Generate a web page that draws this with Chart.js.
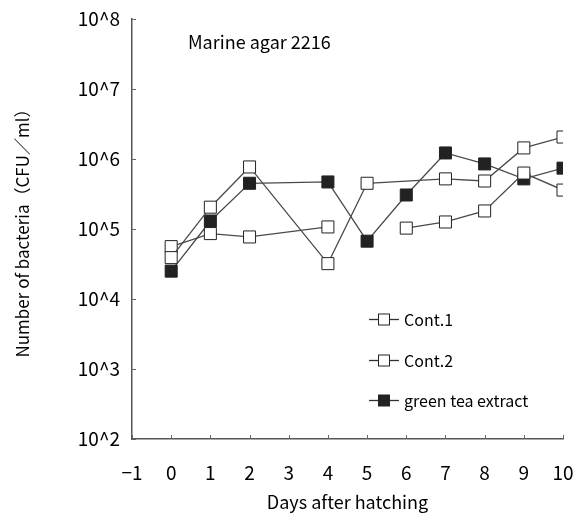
<!DOCTYPE html>
<html>
<head>
<meta charset="utf-8">
<script src="https://cdn.jsdelivr.net/npm/chart.js"></script>
<style>
  html, body { margin: 0; padding: 0; background: #fff; }
  #wrap { width: 574px; height: 517px; }
</style>
</head>
<body>
<div id="wrap"><canvas id="myChart" width="574" height="517"></canvas></div>
<script>
// Setup
const FONT = '"Noto Sans CJK JP", "Noto Sans", sans-serif';

const cont1Days = [0, 1, 2, 4, 5, 7, 8, 9, 10];
const cont1 = [3.9e4, 2.05e5, 7.7e5, 3.2e4, 4.5e5, 5.2e5, 4.85e5, 1.44e6, 2.06e6];

// null at day 5 = break in the line
const cont2Days = [0, 1, 2, 4, 5, 6, 7, 8, 9, 10];
const cont2 = [5.6e4, 8.6e4, 7.7e4, 1.07e5, null, 1.03e5, 1.26e5, 1.81e5, 6.3e5, 3.6e5];

const teaDays = [0, 1, 2, 4, 5, 6, 7, 8, 9, 10];
const tea = [2.5e4, 1.3e5, 4.5e5, 4.7e5, 6.7e4, 3.06e5, 1.22e6, 8.5e5, 5.2e5, 7.4e5];

const xTicks = [-1, 0, 1, 2, 3, 4, 5, 6, 7, 8, 9, 10];
const yExponents = [2, 3, 4, 5, 6, 7, 8];

const toPoints = (days, vals) => days.map((d, i) => ({ x: d, y: vals[i] }));

const lineStyle = (label, pts, fill) => ({
  label: label,
  data: pts,
  borderColor: '#4a4a4a',
  borderWidth: 1.3,
  pointStyle: 'rect',
  pointRadius: 8.5,
  pointHoverRadius: 8.5,
  pointBorderWidth: 1,
  pointBorderColor: '#222',
  pointBackgroundColor: fill,
  spanGaps: false,
  tension: 0
});

const data = {
  datasets: [
    lineStyle('Cont.1', toPoints(cont1Days, cont1), '#fff'),
    lineStyle('Cont.2', toPoints(cont2Days, cont2), '#fff'),
    lineStyle('green tea extract', toPoints(teaDays, tea), '#222')
  ]
};

// inward tick marks, the legend box and the panel label
const extras = {
  id: 'extras',
  afterDraw(chart) {
    const ctx = chart.ctx;
    const xs = chart.scales.x, ys = chart.scales.y;
    const a = chart.chartArea;
    ctx.save();
    ctx.strokeStyle = '#666';
    ctx.lineWidth = 1;
    yExponents.forEach(e => {
      const y = Math.round(ys.getPixelForValue(Math.pow(10, e))) + 0.5;
      ctx.beginPath(); ctx.moveTo(a.left, y); ctx.lineTo(a.left + 4, y); ctx.stroke();
    });
    xTicks.forEach(t => {
      const x = Math.round(xs.getPixelForValue(t)) + 0.5;
      ctx.beginPath(); ctx.moveTo(x, a.bottom); ctx.lineTo(x, a.bottom - 4); ctx.stroke();
    });

    ctx.fillStyle = '#000';
    ctx.font = '18px ' + FONT;
    ctx.textBaseline = 'alphabetic';
    ctx.textAlign = 'left';
    ctx.fillText('Marine agar 2216', 188, 49);

    const rows = [319, 360, 400];
    ctx.font = '16px ' + FONT;
    ctx.textBaseline = 'middle';
    chart.data.datasets.forEach((ds, i) => {
      const y = rows[i] + 0.5;
      ctx.strokeStyle = '#333';
      ctx.lineWidth = 1.3;
      ctx.beginPath(); ctx.moveTo(369, y); ctx.lineTo(399, y); ctx.stroke();
      ctx.fillStyle = ds.pointBackgroundColor;
      ctx.strokeStyle = '#222';
      ctx.lineWidth = 1;
      ctx.fillRect(378.5, y - 5.5, 11, 11);
      ctx.strokeRect(378.5, y - 5.5, 11, 11);
      ctx.fillStyle = '#000';
      ctx.fillText(ds.label, 404, rows[i] + 1);
    });
    ctx.restore();
  }
};

// Config
const config = {
  type: 'line',
  data: data,
  options: {
    responsive: false,
    animation: false,
    layout: { padding: { top: 19, right: 11, left: 0, bottom: 0 } },
    plugins: { legend: { display: false }, tooltip: { enabled: false } },
    scales: {
      x: {
        type: 'linear',
        min: -1,
        max: 10,
        afterBuildTicks: s => { s.ticks = xTicks.map(v => ({ value: v })); },
        afterFit: s => { s.height = 78; s.paddingLeft = 0; s.paddingRight = 0; },
        grid: { drawOnChartArea: false, drawTicks: false },
        border: { display: true, color: '#555', width: 1.5 },
        ticks: {
          padding: 22,
          color: '#000',
          font: { family: FONT, size: 19 },
          callback: v => (v < 0 ? '\u22121' : String(v))
        },
        title: {
          display: true,
          text: 'Days after hatching',
          color: '#000',
          font: { family: FONT, size: 18 },
          padding: { top: 0, bottom: 4 }
        }
      },
      y: {
        type: 'logarithmic',
        min: 1e2,
        max: 1e8,
        afterBuildTicks: s => { s.ticks = yExponents.map(e => ({ value: Math.pow(10, e) })); },
        afterFit: s => { s.width = 132; s.paddingTop = 0; s.paddingBottom = 0; },
        grid: { drawOnChartArea: false, drawTicks: false },
        border: { display: true, color: '#555', width: 1.5 },
        ticks: {
          padding: 12,
          color: '#000',
          font: { family: FONT, size: 19 },
          callback: v => '10^' + Math.round(Math.log10(v))
        },
        title: {
          display: true,
          text: 'Number of bacteria（CFU／ml）',
          color: '#000',
          font: { family: FONT, size: 17 },
          padding: { top: 12, bottom: 0 }
        }
      }
    }
  },
  plugins: [extras]
};

const myChart = new Chart(
  document.getElementById('myChart'),
  config
);
</script>
</body>
</html>
